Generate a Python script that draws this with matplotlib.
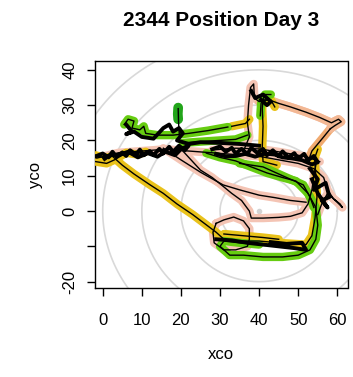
import matplotlib.pyplot as plt
import numpy as np

plt.rcParams['font.family'] = ['Liberation Sans', 'DejaVu Sans']

title = "2344 Position Day 3"
center = (40, 0)
radii = [10, 20, 30, 40, 50, 60]

# salmon track (top loop, big arc, inner loops)
sal_top_x = [36, 37.5, 37, 37.3, 37.8, 38.6, 38.8, 40, 42.5, 45, 48, 52, 55.5, 58.5, 60.3, 61, 59.5, 58.2]
sal_top_y = [17, 21, 25, 30, 35, 36, 32, 31, 31.5, 30.5, 29.5, 28, 26.5, 25, 26, 25.3, 24.3, 23.3]
org_x = [58.2, 56.5, 55, 53.5, 53]
org_y = [23.3, 21, 19, 17, 15.5]
sal_arc_x = [-1.5, 4, 10, 16, 22, 28, 34, 40, 45, 50, 54, 56.5, 57.5, 59, 60.7, 61.3, 59.5, 57.5, 56, 55]
sal_arc_y = [15, 16.5, 17, 17.5, 17, 16.5, 16, 15.5, 14.5, 13.5, 12, 9.5, 6, 3.5, 2, 1, 3, 5, 2, -1]
sal_in_x = [20.5, 23, 25, 28, 30.8, 33, 35.5, 37.5, 38, 41, 45, 48, 51, 52.5, 53.5, 54, 54.5]
sal_in_y = [17, 14, 11.6, 9.5, 7, 5, 3, 0, -2, -2, -1.8, -1.5, -0.5, 2, 6, 10, 13]
sal_lp_x = [29, 31, 33.5, 36, 37.5, 37.5, 37, 34, 31, 28.5, 28.2, 29]
sal_lp_y = [-3.5, -2.5, -1.7, -2.8, -5, -8, -10, -11, -11, -9, -6, -3.5]
sal_g_x = [15.5, 20, 25, 30.8, 35, 40, 44, 48, 52]
sal_g_y = [17.8, 14.5, 11, 7.4, 6, 4.5, 3.8, 3, 2.5]
sal_b_x = [28, 34, 40, 46, 52, 55.5]
sal_b_y = [17.3, 17.8, 17.6, 16.6, 15.4, 14]

# gold track
gold_a_x = [-1.8, 0.5, 2.5, 5, 8, 12, 15.5, 19, 23, 26, 29, 31, 35, 40, 45, 49, 52, 53.5, 54.3, 54.8, 54.5, 54.2, 55]
gold_a_y = [15.8, 15, 15.5, 13, 10.5, 7.5, 5, 2, -1, -3.5, -6, -8, -8.5, -8.5, -9, -9.3, -9.5, -7, -2, 4, 10, 15, 17.5]
gold_b_x = [-1.8, 1, 3, 6, 9, 11]
gold_b_y = [14, 13.5, 14.5, 16.5, 16, 16.8]
gold_c_x = [44.5, 41, 40.8, 41, 40.8, 41, 43, 44]
gold_c_y = [13, 14, 18, 24, 29, 31.5, 31.5, 29.5]
gold_d_x = [31, 36, 41, 45]
gold_d_y = [-6.5, -7, -7.5, -8]
gold_e_x = [33, 36.5, 37.5]
gold_e_y = [24, 24.8, 26]

# green track
grn_a_x = [19.3, 19.2, 19.3]
grn_a_y = [29.3, 27.5, 26]
spike_x = [19.3, 19.4, 19.6]
spike_y = [29, 25, 21.5]
grn_b_x = [5.5, 6.5, 8, 7.5, 9.5, 10.5, 11, 14, 18, 22, 27, 32]
grn_b_y = [24.5, 26, 25.5, 23.5, 23, 24, 22, 21.5, 21.5, 22, 22.8, 23.8]
grn_f_x = [20.5, 27, 34, 37]
grn_f_y = [19.3, 19.8, 20.3, 21.5]
grn_c_x = [26.5, 30, 34, 38, 42, 46, 49.4, 52.5, 54.5, 55, 54.5, 53, 50, 46, 41, 36, 32.5, 30, 31, 35, 40]
grn_c_y = [16.4, 15.2, 14.2, 12.5, 10.8, 9.5, 8.5, 5, 1, -4, -8, -11, -12.5, -13, -13, -12.5, -12.5, -10, -8.5, -9, -9.5]
grn_d_x = [35, 41, 46, 51.3, 53, 54]
grn_d_y = [13.5, 12.5, 10, 7.4, 4, 1]
grn_e_x = [40.3, 40.5, 41.5, 43]
grn_e_y = [27, 30.5, 33, 33]

# dense black tangles
blk_a_x = [-1.8, 0, 1.5, 2.5, 3.5, 5, 6, 7, 8.5, 9.5, 10.5, 12, 13, 14.5, 15.5, 17, 18, 19.5, 21, 22,
           20, 18.5, 16, 14, 11.5, 9, 6.5, 4, 2, 0.5]
blk_a_y = [15.5, 16.3, 15.2, 16.8, 15.4, 16.6, 15.6, 17.2, 16, 17.4, 15.8, 17, 15.9, 17.6, 16.3, 18.2, 16.8, 18.5, 17.2, 18.6,
           17.5, 15.8, 16.8, 15.4, 16.4, 15.2, 16.8, 15.8, 16, 14.8]
blk_f_x = [28, 30, 31.5, 33, 34, 35.5, 37, 38, 39.5, 41, 42, 43.5, 45, 46, 47.5, 49, 50, 51.5, 52.5, 54, 55,
           53.5, 51, 48.5, 46, 44, 41.5, 39, 36.5, 34, 31.5, 29]
blk_f_y = [17.5, 18.3, 16.8, 17.9, 16.3, 17.6, 16.2, 17.9, 16.5, 17.6, 15.8, 17.2, 15.5, 16.9, 15.2, 16.4, 14.8, 16.2, 14.4, 15.6, 13.8,
           13.2, 14.4, 14.9, 15.2, 16, 16.3, 15.4, 16.2, 15.6, 15.5, 16.2]
blk_b_x = [6, 7.5, 6, 8, 10, 13, 15.5, 17, 18, 19.5, 20.5, 19, 22, 25, 30, 35, 40]
blk_b_y = [24.5, 22.5, 21.8, 22.5, 21, 20.5, 23.5, 24.5, 22.5, 23.5, 22, 20, 19, 19.5, 19.3, 19, 18.5]
blk_c_x = [38, 39, 41, 43, 42, 40.5]
blk_c_y = [34, 32, 33, 31, 30, 31.5]
blk_d_x = [53, 55, 54, 57, 58, 56, 57.5, 55, 53.5]
blk_d_y = [12, 9, 6, 8, 4, 3, 1, 5, 9]
blk_e_x = [29, 33, 37, 41, 45, 49, 52, 51, 47, 43]
blk_e_y = [-8, -8.3, -9, -9.5, -10, -10.5, -11, -9, -9.3, -8.8]

fig = plt.figure(figsize=(3.53, 3.77), dpi=100)
ax = fig.add_axes([95 / 353, 1 - 288 / 377, 252.5 / 353, 227 / 377])

t = np.linspace(0, 2 * np.pi, 400)
for r in radii:
    ax.plot(center[0] + r * np.cos(t), center[1] + r * np.sin(t), color='#d9d9d9', lw=1.2, zorder=1)
ax.plot(*center, 'o', color='#d3d3d3', ms=3, zorder=1)

halo = 6
salmon = '#f4c4b4'
orange = '#f0aa70'
gold = '#e9c21b'
green = '#66cc11'

for xs, ys in [(sal_top_x, sal_top_y), (sal_arc_x, sal_arc_y), (sal_in_x, sal_in_y),
               (sal_lp_x, sal_lp_y), (sal_g_x, sal_g_y), (sal_b_x, sal_b_y)]:
    ax.plot(xs, ys, color=salmon, lw=halo, solid_capstyle='round', zorder=2)
ax.plot(org_x, org_y, color=orange, lw=halo, solid_capstyle='round', zorder=2)
ax.plot(sal_top_x[7:], sal_top_y[7:], color='#f3b894', lw=halo, solid_capstyle='round', zorder=2)

for xs, ys in [(gold_a_x, gold_a_y), (gold_b_x, gold_b_y), (gold_c_x, gold_c_y),
               (gold_d_x, gold_d_y), (gold_e_x, gold_e_y)]:
    ax.plot(xs, ys, color=gold, lw=halo, solid_capstyle='round', zorder=3)

for xs, ys in [(grn_b_x, grn_b_y), (grn_f_x, grn_f_y), (grn_c_x, grn_c_y), (grn_d_x, grn_d_y), (grn_e_x, grn_e_y)]:
    ax.plot(xs, ys, color=green, lw=halo, solid_capstyle='round', zorder=4)
ax.plot(grn_a_x, grn_a_y, color='#22a51a', lw=7, solid_capstyle='round', zorder=4)

thin = [(sal_top_x, sal_top_y), (org_x, org_y), (sal_arc_x, sal_arc_y), (sal_in_x, sal_in_y),
        (sal_lp_x, sal_lp_y), (sal_g_x, sal_g_y), (sal_b_x, sal_b_y), (gold_a_x, gold_a_y),
        (gold_b_x, gold_b_y), (gold_c_x, gold_c_y), (gold_d_x, gold_d_y), (gold_e_x, gold_e_y),
        (spike_x, spike_y), (grn_b_x, grn_b_y), (grn_f_x, grn_f_y),
        (grn_c_x, grn_c_y), (grn_d_x, grn_d_y), (grn_e_x, grn_e_y)]
for xs, ys in thin:
    ax.plot(xs, ys, color='black', lw=1.0, zorder=5)

for xs, ys in [(blk_a_x, blk_a_y), (blk_f_x, blk_f_y), (blk_b_x, blk_b_y),
               (blk_c_x, blk_c_y), (blk_d_x, blk_d_y), (blk_e_x, blk_e_y)]:
    ax.plot(xs, ys, color='black', lw=2.8, zorder=6)

ax.set_xlim(-1.97, 62.6)
ax.set_ylim(-21.8, 42.5)
ax.set_xticks([0, 10, 20, 30, 40, 50, 60])
ax.set_yticks([-20, -10, 0, 10, 20, 30, 40])
ax.set_yticklabels(['-20', '', '0', '10', '20', '30', '40'], rotation=90, va='center')
ax.tick_params(axis='both', direction='out', length=5.8, width=1, labelsize=12)
ax.tick_params(axis='x', pad=12)
ax.tick_params(axis='y', pad=7)
for s in ax.spines.values():
    s.set_linewidth(1)

ax.set_xlabel('xco', fontsize=12, labelpad=14)
ax.set_ylabel('yco', fontsize=12, labelpad=14)
fig.text(221 / 353, 1 - 20 / 377, title, fontsize=15, fontweight='bold', ha='center', va='center')

fig.savefig('out.png', dpi=100)
